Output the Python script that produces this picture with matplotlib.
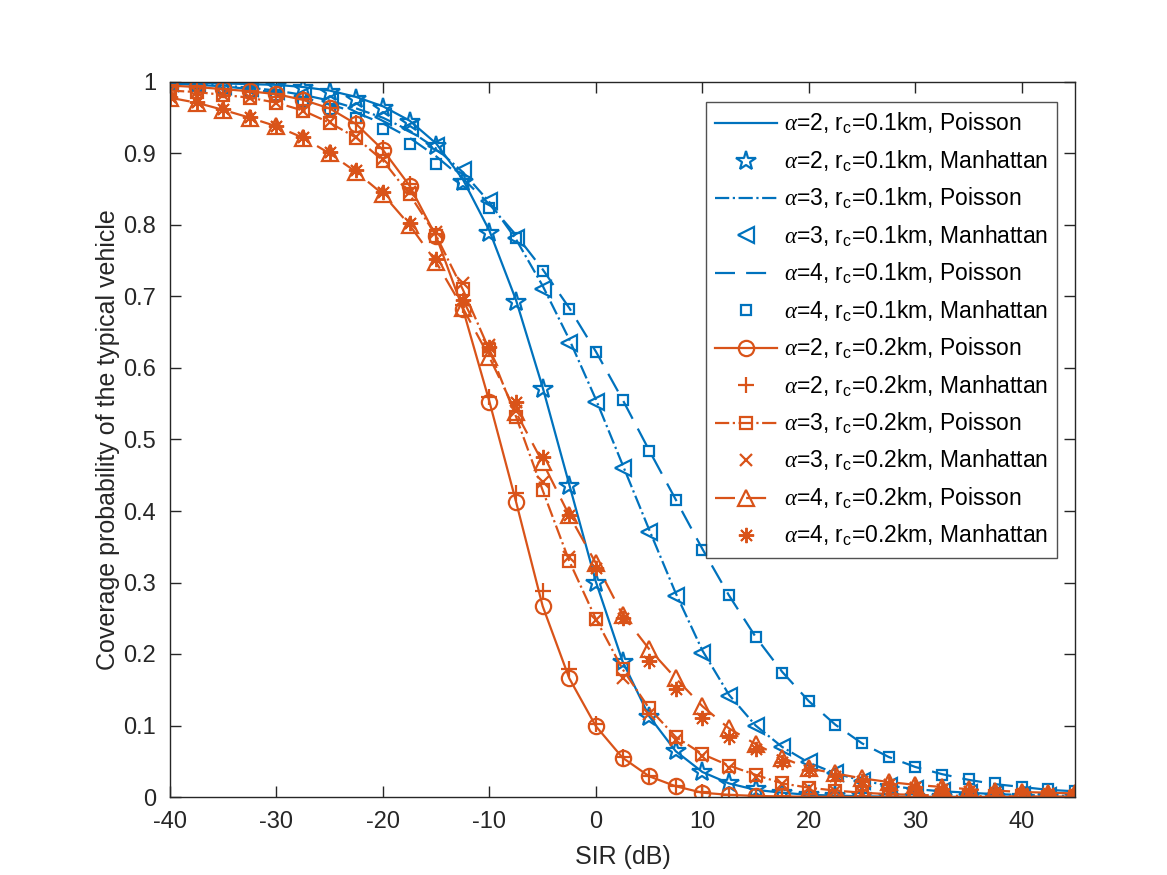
import matplotlib
matplotlib.use("Agg")
import matplotlib.pyplot as plt

plt.rcParams['font.family'] = ['Liberation Sans', 'DejaVu Sans']
plt.rcParams['mathtext.fontset'] = 'custom'
plt.rcParams['mathtext.rm'] = 'Liberation Sans'
plt.rcParams['mathtext.it'] = 'Liberation Serif:italic'
plt.rcParams['mathtext.sf'] = 'Liberation Sans'
plt.rcParams['axes.unicode_minus'] = False

BLUE = '#0072BD'
ORANGE = '#D95319'

sir = [-40, -37.5, -35, -32.5, -30, -27.5, -25, -22.5, -20, -17.5, -15, -12.5,
       -10, -7.5, -5, -2.5, 0, 2.5, 5, 7.5, 10, 12.5, 15, 17.5, 20, 22.5, 25,
       27.5, 30, 32.5, 35, 37.5, 40, 42.5, 45]

# r_c = 0.1 km
a2_01_pois = [0.999, 0.999, 0.998, 0.997, 0.996, 0.993, 0.988, 0.979, 0.966, 0.946, 0.914, 0.864,
              0.792, 0.695, 0.573, 0.437, 0.301, 0.190, 0.113, 0.064, 0.035, 0.019, 0.010, 0.006,
              0.003, 0.002, 0.001, 0.0005, 0.0003, 0.0002, 0.0001, 0.0001, 0.0, 0.0, 0.0]
a2_01_manh = [0.999, 0.999, 0.998, 0.997, 0.995, 0.992, 0.986, 0.976, 0.964, 0.944, 0.911, 0.860,
              0.789, 0.693, 0.571, 0.435, 0.299, 0.189, 0.112, 0.064, 0.035, 0.020, 0.011, 0.006,
              0.003, 0.002, 0.001, 0.0006, 0.0003, 0.0002, 0.0001, 0.0001, 0.0001, 0.0, 0.0]
a3_01_pois = [0.998, 0.997, 0.995, 0.992, 0.988, 0.982, 0.974, 0.963, 0.950, 0.932, 0.907, 0.874,
              0.832, 0.780, 0.715, 0.640, 0.556, 0.465, 0.374, 0.285, 0.205, 0.143, 0.100, 0.070,
              0.048, 0.033, 0.023, 0.016, 0.011, 0.008, 0.006, 0.004, 0.003, 0.002, 0.0015]
a3_01_manh = [0.998, 0.997, 0.995, 0.992, 0.988, 0.982, 0.973, 0.963, 0.951, 0.935, 0.910, 0.877,
              0.834, 0.782, 0.711, 0.635, 0.552, 0.460, 0.371, 0.281, 0.201, 0.141, 0.099, 0.070,
              0.049, 0.033, 0.023, 0.016, 0.011, 0.008, 0.006, 0.004, 0.003, 0.002, 0.0015]
a4_01_pois = [0.998, 0.996, 0.994, 0.990, 0.985, 0.978, 0.969, 0.957, 0.942, 0.922, 0.896, 0.865,
              0.829, 0.786, 0.738, 0.684, 0.623, 0.556, 0.485, 0.416, 0.347, 0.282, 0.224, 0.175,
              0.134, 0.101, 0.075, 0.056, 0.042, 0.032, 0.024, 0.018, 0.014, 0.010, 0.008]
a4_01_manh = [0.997, 0.995, 0.992, 0.988, 0.982, 0.972, 0.962, 0.950, 0.934, 0.913, 0.886, 0.857,
              0.824, 0.782, 0.735, 0.683, 0.622, 0.555, 0.484, 0.416, 0.346, 0.282, 0.224, 0.174,
              0.134, 0.101, 0.075, 0.056, 0.042, 0.031, 0.025, 0.019, 0.014, 0.011, 0.008]

# r_c = 0.2 km
a2_02_pois = [0.995, 0.993, 0.990, 0.987, 0.983, 0.975, 0.963, 0.941, 0.905, 0.855, 0.784, 0.683,
              0.553, 0.413, 0.267, 0.166, 0.099, 0.055, 0.029, 0.015, 0.006, 0.003, 0.0015, 0.0008,
              0.0004, 0.0002, 0.0001, 0.0, 0.0, 0.0, 0.0, 0.0, 0.0, 0.0, 0.0]
a2_02_manh = [0.995, 0.993, 0.990, 0.987, 0.983, 0.976, 0.964, 0.943, 0.907, 0.858, 0.787, 0.688,
              0.560, 0.425, 0.288, 0.179, 0.102, 0.056, 0.030, 0.015, 0.007, 0.003, 0.0015, 0.0008,
              0.0004, 0.0002, 0.0001, 0.0, 0.0, 0.0, 0.0, 0.0, 0.0, 0.0, 0.0]
a3_02_pois = [0.988, 0.986, 0.982, 0.978, 0.971, 0.960, 0.943, 0.922, 0.890, 0.843, 0.785, 0.710,
              0.625, 0.532, 0.429, 0.330, 0.249, 0.179, 0.124, 0.084, 0.060, 0.044, 0.031, 0.019,
              0.013, 0.009, 0.006, 0.004, 0.003, 0.002, 0.0015, 0.001, 0.0008, 0.0006, 0.0005]
a3_02_manh = [0.988, 0.986, 0.982, 0.978, 0.971, 0.960, 0.944, 0.923, 0.892, 0.846, 0.790, 0.719,
              0.632, 0.540, 0.440, 0.336, 0.248, 0.166, 0.116, 0.080, 0.057, 0.041, 0.028, 0.018,
              0.012, 0.008, 0.005, 0.004, 0.003, 0.002, 0.0015, 0.001, 0.0008, 0.0006, 0.0005]
a4_02_pois = [0.978, 0.971, 0.961, 0.950, 0.938, 0.922, 0.900, 0.874, 0.843, 0.800, 0.748, 0.684,
              0.615, 0.538, 0.468, 0.394, 0.327, 0.255, 0.207, 0.166, 0.127, 0.096, 0.074, 0.055,
              0.040, 0.033, 0.026, 0.021, 0.017, 0.014, 0.011, 0.009, 0.007, 0.006, 0.005]
a4_02_manh = [0.979, 0.972, 0.962, 0.951, 0.939, 0.923, 0.902, 0.877, 0.846, 0.803, 0.752, 0.695,
              0.629, 0.552, 0.475, 0.395, 0.320, 0.250, 0.190, 0.151, 0.110, 0.084, 0.067, 0.049,
              0.038, 0.030, 0.023, 0.018, 0.014, 0.011, 0.009, 0.007, 0.006, 0.005, 0.004]

labels = [
    r'$\alpha$=2, r$_\mathrm{c}$=0.1km, Poisson',
    r'$\alpha$=2, r$_\mathrm{c}$=0.1km, Manhattan',
    r'$\alpha$=3, r$_\mathrm{c}$=0.1km, Poisson',
    r'$\alpha$=3, r$_\mathrm{c}$=0.1km, Manhattan',
    r'$\alpha$=4, r$_\mathrm{c}$=0.1km, Poisson',
    r'$\alpha$=4, r$_\mathrm{c}$=0.1km, Manhattan',
    r'$\alpha$=2, r$_\mathrm{c}$=0.2km, Poisson',
    r'$\alpha$=2, r$_\mathrm{c}$=0.2km, Manhattan',
    r'$\alpha$=3, r$_\mathrm{c}$=0.2km, Poisson',
    r'$\alpha$=3, r$_\mathrm{c}$=0.2km, Manhattan',
    r'$\alpha$=4, r$_\mathrm{c}$=0.2km, Poisson',
    r'$\alpha$=4, r$_\mathrm{c}$=0.2km, Manhattan',
]

fig = plt.figure(figsize=(11.67, 8.75), dpi=100)
ax = fig.add_axes([170 / 1167, 78 / 875, (1075 - 170) / 1167, (797 - 82) / 875])

lw = 1.6
mew = 1.6
dash = (9, 5)
asterisk = (8, 2, 0)
ax.plot(sir, a2_01_pois, '-', color=BLUE, lw=lw, label=labels[0])
ax.plot(sir, a2_01_manh, '*', color=BLUE, ms=15, mfc='none', mew=mew, label=labels[1])
ax.plot(sir, a3_01_pois, '-.', color=BLUE, lw=lw, label=labels[2])
ax.plot(sir, a3_01_manh, '<', color=BLUE, ms=12, mfc='none', mew=mew, label=labels[3])
ax.plot(sir, a4_01_pois, '--', color=BLUE, lw=lw, dashes=dash, label=labels[4])
ax.plot(sir, a4_01_manh, 's', color=BLUE, ms=7.5, mfc='none', mew=mew, label=labels[5])
ax.plot(sir, a2_02_pois, '-o', color=ORANGE, lw=lw, ms=11, mfc='none', mew=mew, label=labels[6])
ax.plot(sir, a2_02_manh, '+', color=ORANGE, ms=11, mew=mew, label=labels[7])
ax.plot(sir, a3_02_pois, '-.s', color=ORANGE, lw=lw, ms=9, mfc='none', mew=mew, label=labels[8])
ax.plot(sir, a3_02_manh, 'x', color=ORANGE, ms=8, mew=mew, label=labels[9])
ax.plot(sir, a4_02_pois, '--^', color=ORANGE, lw=lw, dashes=dash, ms=12, mfc='none', mew=mew, label=labels[10])
ax.plot(sir, a4_02_manh, marker=asterisk, ls='none', color=ORANGE, ms=11, mew=1.4, label=labels[11])

ax.set_xlim(-40, 45)
ax.set_ylim(0, 1)
ax.set_xticks([-40, -30, -20, -10, 0, 10, 20, 30, 40])
ax.set_yticks([0, 0.1, 0.2, 0.3, 0.4, 0.5, 0.6, 0.7, 0.8, 0.9, 1])
ax.set_yticklabels(['0', '0.1', '0.2', '0.3', '0.4', '0.5', '0.6', '0.7', '0.8', '0.9', '1'])
ax.tick_params(direction='in', top=True, right=True, length=8, width=1,
               labelsize=17, colors='#262626', pad=10)
for s in ax.spines.values():
    s.set_color('#262626')
    s.set_linewidth(1)

ax.set_xlabel('SIR (dB)', fontsize=18, color='#262626', labelpad=9)
ax.set_ylabel('Coverage probability of the typical vehicle', fontsize=18, color='#262626', labelpad=2)

leg = ax.legend(loc='upper right', bbox_to_anchor=(1.0 - 18 / 905, 1.0 - 20 / 715),
                fontsize=16.5, frameon=True, fancybox=False, edgecolor='#262626',
                handlelength=2.7, labelspacing=0.53, borderpad=0.4, handletextpad=0.3,
                borderaxespad=0)
leg.get_frame().set_linewidth(1)

fig.savefig('out.png', dpi=100)
